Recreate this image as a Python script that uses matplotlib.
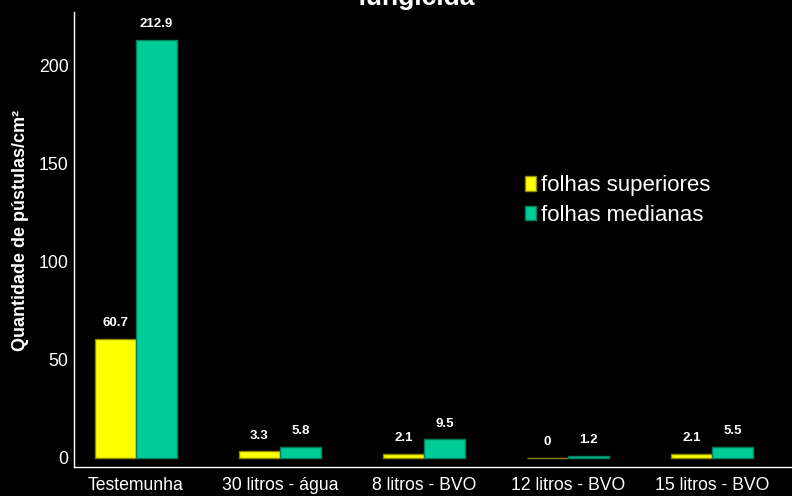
import numpy as np
import matplotlib.pyplot as plt

plt.rcParams['font.family'] = ['Liberation Sans', 'DejaVu Sans']

# dados
tratamentos = ['Testemunha', '30 litros - água', '8 litros - BVO', '12 litros - BVO', '15 litros - BVO']
superiores = [60.7, 3.3, 2.1, 0, 2.1]
medianas = [212.9, 5.8, 9.5, 1.2, 5.5]

fig = plt.figure(figsize=(7.92, 4.96), dpi=100, facecolor='black')
ax = fig.add_axes([74/792, 29/496, 718/792, 455/496], facecolor='black')

x = np.arange(len(tratamentos))
w = 0.285
b1 = ax.bar(x - w/2, superiores, w, color='#ffff00', edgecolor='#8a8a00', linewidth=1, label='folhas superiores')
b2 = ax.bar(x + w/2, medianas, w, color='#00cc99', edgecolor='#00805f', linewidth=1, label='folhas medianas')

for bars, vals in [(b1, superiores), (b2, medianas)]:
    for r, v in zip(bars, vals):
        lab = '0' if v == 0 else f'{v:g}'
        ax.annotate(lab, (r.get_x() + r.get_width()/2, v), xytext=(0, 7), textcoords='offset points',
                    ha='center', va='bottom', color='white', fontsize=9.5, fontweight='bold')

ax.set_xlim(-0.43, 4.556)
ax.set_ylim(-4.6, 227)
ax.set_xticks(x)
ax.set_xticklabels(tratamentos)
ax.set_yticks([0, 50, 100, 150, 200])
ax.tick_params(colors='white', labelsize=12.7, length=0, pad=4)
ax.tick_params(axis='x', pad=7)
for s in ['top', 'right']:
    ax.spines[s].set_visible(False)
for s in ['left', 'bottom']:
    ax.spines[s].set_color('white')
    ax.spines[s].set_linewidth(1)

ax.set_ylabel('Quantidade de pústulas/cm²', color='white', fontsize=13, fontweight='bold')
ax.yaxis.set_label_coords(-0.063, 0.52)

leg = ax.legend(loc='upper left', bbox_to_anchor=(0.6, 0.685), frameon=False, fontsize=16,
                handlelength=0.5, handleheight=0.6, handletextpad=0.25, labelspacing=0.4, labelcolor='white')

fig.text(416/792, 1 - 5/496, 'fungicida', ha='center', va='baseline', color='white', fontsize=19, fontweight='bold')

fig.savefig('out.png', dpi=100, facecolor='black')
